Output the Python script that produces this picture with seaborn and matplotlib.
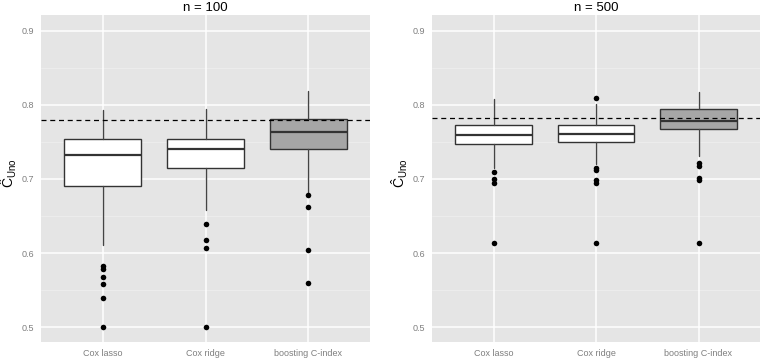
import matplotlib
matplotlib.use("Agg")
import matplotlib.pyplot as plt
import seaborn as sns

# ---------------- data ----------------
methods = ["Cox lasso", "Cox ridge", "boosting C-index"]
box_fills = ["#FFFFFF", "#FFFFFF", "#A6A6A6"]
y_ticks = [0.5, 0.6, 0.7, 0.8, 0.9]
panel_titles = ["n = 100", "n = 500"]

# n = 100
n100_whislo = [0.611, 0.658, 0.681]
n100_q1 = [0.690, 0.715, 0.7405]
n100_med = [0.732, 0.7405, 0.763]
n100_q3 = [0.7536, 0.754, 0.7807]
n100_whishi = [0.793, 0.794, 0.819]
n100_out_lasso = [0.582, 0.578, 0.568, 0.558, 0.540, 0.500]
n100_out_ridge = [0.639, 0.617, 0.6065, 0.500]
n100_out_boost = [0.678, 0.662, 0.6045, 0.5595]
n100_ref = 0.779

# n = 500
n500_whislo = [0.714, 0.7197, 0.731]
n500_q1 = [0.747, 0.7496, 0.767]
n500_med = [0.759, 0.7605, 0.7776]
n500_q3 = [0.773, 0.773, 0.794]
n500_whishi = [0.808, 0.801, 0.8173]
n500_out_lasso = [0.709, 0.700, 0.694, 0.614]
n500_out_ridge = [0.8095, 0.7145, 0.712, 0.698, 0.695, 0.614]
n500_out_boost = [0.722, 0.7175, 0.7017, 0.698, 0.614]
n500_ref = 0.782

# ---------------- style ----------------
sns.set_theme(style="darkgrid")
plt.rcParams.update({
    "font.family": ["Liberation Sans", "DejaVu Sans"],
    "axes.facecolor": "#E5E5E5",
    "figure.facecolor": "white",
    "grid.color": "white",
    "mathtext.fontset": "custom",
    "mathtext.rm": "Liberation Sans",
    "mathtext.it": "Liberation Sans:italic",
})

fig = plt.figure(figsize=(7.64, 3.61), dpi=100)
ax_rects = [
    [41 / 764, 19 / 361, 329 / 764, 327 / 361],
    [432 / 764, 19 / 361, 328 / 764, 327 / 361],
]

panels = [
    (n100_whislo, n100_q1, n100_med, n100_q3, n100_whishi,
     [n100_out_lasso, n100_out_ridge, n100_out_boost], n100_ref),
    (n500_whislo, n500_q1, n500_med, n500_q3, n500_whishi,
     [n500_out_lasso, n500_out_ridge, n500_out_boost], n500_ref),
]

edge = "#333333"
for rect, title, (wlo, q1, med, q3, whi, outs, ref) in zip(ax_rects, panel_titles, panels):
    ax = fig.add_axes(rect)
    ax.set_facecolor("#E5E5E5")
    positions = list(range(len(methods)))

    # minor horizontal grid
    for yy in [0.55, 0.65, 0.75, 0.85]:
        ax.axhline(yy, color="#F0F0F0", lw=0.5, zorder=0.5)
    ax.grid(True, which="major", color="white", lw=1.1)
    ax.set_axisbelow(True)

    stats = []
    for i, m in enumerate(methods):
        stats.append(dict(label=m, whislo=wlo[i], q1=q1[i], med=med[i],
                          q3=q3[i], whishi=whi[i], fliers=[]))
    bp = ax.bxp(stats, positions=positions, widths=0.75, patch_artist=True,
                showfliers=False, showcaps=False,
                boxprops=dict(edgecolor=edge, linewidth=1.0),
                medianprops=dict(color=edge, linewidth=1.6),
                whiskerprops=dict(color="#444444", linewidth=1.0))
    for patch, fc in zip(bp["boxes"], box_fills):
        patch.set_facecolor(fc)
        patch.set_zorder(2)
    for art in bp["medians"]:
        art.set_zorder(3)

    # outliers via seaborn
    ox, oy = [], []
    for i, vals in enumerate(outs):
        ox += [positions[i]] * len(vals)
        oy += list(vals)
    sns.scatterplot(x=ox, y=oy, ax=ax, color="black", s=16, linewidth=0, zorder=4)

    # reference line
    ax.axhline(ref, color="black", lw=0.9, ls=(0, (4, 3)), zorder=5)

    ax.set_xlim(-0.6, 2.6)
    ax.set_ylim(0.48, 0.921)
    ax.set_xticks(positions)
    ax.set_xticklabels(methods)
    ax.set_yticks(y_ticks)
    ax.set_yticklabels([f"{v:.1f}" for v in y_ticks])
    ax.tick_params(axis="both", which="major", length=3, width=0.8,
                   color="#7F7F7F", labelcolor="#7F7F7F", labelsize=6.5, pad=2)
    for s in ax.spines.values():
        s.set_visible(False)
    ax.set_xlabel("")
    ax.set_ylabel(r"$\hat{\mathrm{C}}_{\mathrm{Uno}}$", fontsize=10, color="black")
    ax.yaxis.set_label_coords(-0.068, 0.515)
    ax.set_title(title, fontsize=9.5, pad=3, color="black")

fig.savefig("out.png", dpi=100)
